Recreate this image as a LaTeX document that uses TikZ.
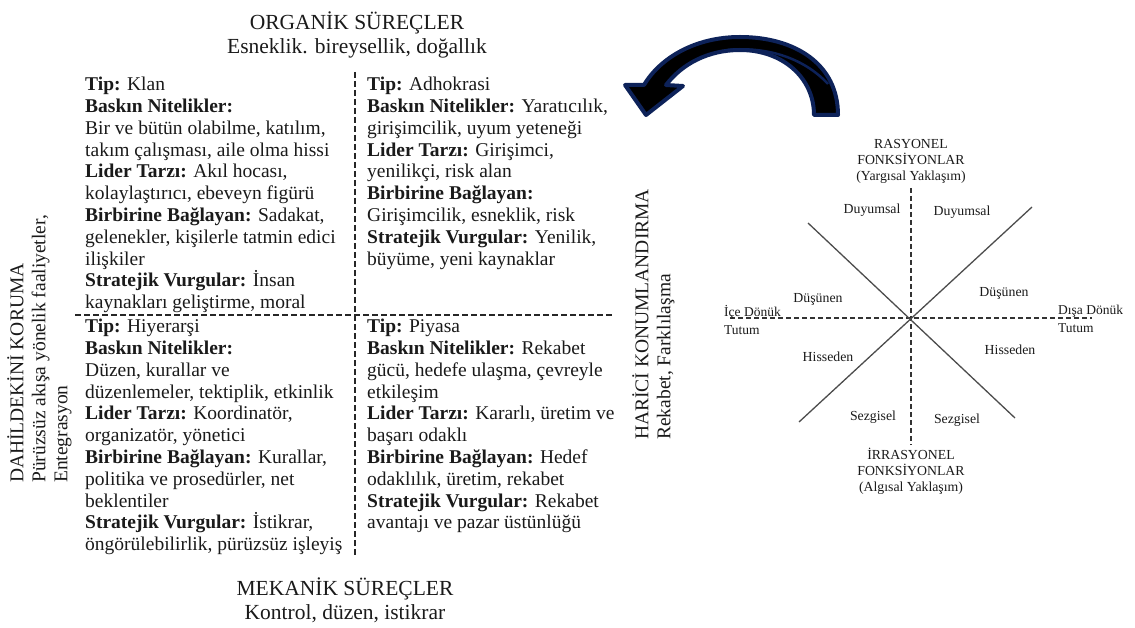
\documentclass[tikz,border=0pt]{standalone}
\usepackage{fontspec}
\setmainfont{Liberation Serif}
\definecolor{navy}{HTML}{0D2259}
\definecolor{ink}{HTML}{1A1A1A}
\begin{document}
\begin{tikzpicture}[x=1pt,y=-1pt,
  quad/.style={anchor=north west, inner sep=0pt, align=left, text=ink,
    font=\fontsize{19.5}{21.8}\selectfont},
  head/.style={align=center, inner sep=0pt, text=ink,
    font=\fontsize{21.5}{24}\selectfont},
  side/.style={rotate=90, anchor=north west, inner sep=0pt, align=left, text=ink,
    font=\fontsize{19.5}{22}\selectfont},
  small/.style={inner sep=0pt, text=ink, font=\fontsize{13.8}{16}\selectfont},
  divider/.style={dash pattern=on 6pt off 3pt, line width=1.2pt, draw=black!85},
  axis/.style={dash pattern=on 5pt off 3pt, line width=1.1pt, draw=black!80},
  diag/.style={line width=1.3pt, draw=black!70},
  turn/.style={fill=black, draw=navy, line width=4pt, line join=round},
  fold/.style={draw=navy, line width=2.5pt}
]
\useasboundingbox (0,0) rectangle (1135,628);

% ---- competing values frame ----
\node[head] (top) at (357,35) {ORGANİK SÜREÇLER\\Esneklik. bireysellik, doğallık};
\node[head] (bottom) at (345,600) {MEKANİK SÜREÇLER\\Kontrol, düzen, istikrar};

\coordinate (vtop) at (355,72);
\coordinate (vbot) at (355,555);
\coordinate (hleft) at (75,315);
\coordinate (hright) at (612,315);
\draw[divider] (vtop) -- (vbot);
\draw[divider] (hleft) -- (hright);

\node[side] (inner) at (7,483) {DAHİLDEKİNİ KORUMA\\Pürüzsüz akışa yönelik faaliyetler,\\Entegrasyon};
\node[side] (outer) at (632,440) {HARİCİ KONUMLANDIRMA\\Rekabet, Farklılaşma};

\node[quad] (clan) at (85,77) {\textbf{Tip:} Klan\\
\textbf{Baskın Nitelikler:}\\
Bir ve bütün olabilme, katılım,\\
takım çalışması, aile olma hissi\\
\textbf{Lider Tarzı:} Akıl hocası,\\
kolaylaştırıcı, ebeveyn figürü\\
\textbf{Birbirine Bağlayan:} Sadakat,\\
gelenekler, kişilerle tatmin edici\\
ilişkiler\\
\textbf{Stratejik Vurgular:} İnsan\\
kaynakları geliştirme, moral};

\node[quad] (adhocracy) at (367,77) {\textbf{Tip:} Adhokrasi\\
\textbf{Baskın Nitelikler:} Yaratıcılık,\\
girişimcilik, uyum yeteneği\\
\textbf{Lider Tarzı:} Girişimci,\\
yenilikçi, risk alan\\
\textbf{Birbirine Bağlayan:}\\
Girişimcilik, esneklik, risk\\
\textbf{Stratejik Vurgular:} Yenilik,\\
büyüme, yeni kaynaklar};

\node[quad] (hierarchy) at (85,319) {\textbf{Tip:} Hiyerarşi\\
\textbf{Baskın Nitelikler:}\\
Düzen, kurallar ve\\
düzenlemeler, tektiplik, etkinlik\\
\textbf{Lider Tarzı:} Koordinatör,\\
organizatör, yönetici\\
\textbf{Birbirine Bağlayan:} Kurallar,\\
politika ve prosedürler, net\\
beklentiler\\
\textbf{Stratejik Vurgular:} İstikrar,\\
öngörülebilirlik, pürüzsüz işleyiş};

\node[quad] (market) at (367,319) {\textbf{Tip:} Piyasa\\
\textbf{Baskın Nitelikler:} Rekabet\\
gücü, hedefe ulaşma, çevreyle\\
etkileşim\\
\textbf{Lider Tarzı:} Kararlı, üretim ve\\
başarı odaklı\\
\textbf{Birbirine Bağlayan:} Hedef\\
odaklılık, üretim, rekabet\\
\textbf{Stratejik Vurgular:} Rekabet\\
avantajı ve pazar üstünlüğü};

% ---- curved arrow ----
\draw[turn] (838,115) .. controls (838,64) and (795,37) .. (740,37)
  .. controls (695,37) and (660,58) .. (644,85)
  -- (625,85) -- (646,115) -- (683,86) -- (666,85)
  .. controls (682,64) and (708,50) .. (740,50)
  .. controls (783,50) and (814,78) .. (814,115) -- cycle;
\draw[fold] (728,50) .. controls (770,46) and (806,60) .. (828,84);

% ---- function wheel ----
\coordinate (c) at (911,318);
\coordinate (ntop) at (911,188);
\coordinate (nbot) at (911,445);
\coordinate (wl) at (730,318);
\coordinate (wr) at (1092,318);
\coordinate (d1a) at (808,223);
\coordinate (d1b) at (1015,418);
\coordinate (d2a) at (1032,207);
\coordinate (d2b) at (799,422);
\draw[axis] (ntop) -- (nbot);
\draw[axis] (wl) -- (wr);
\draw[diag] (d1a) -- (d1b);
\draw[diag] (d2a) -- (d2b);

\node[small, align=center] (rational) at (911,161) {RASYONEL\\FONKSİYONLAR\\(Yargısal Yaklaşım)};
\node[small, align=center] (irrational) at (911,471) {İRRASYONEL\\FONKSİYONLAR\\(Algısal Yaklaşım)};
\node[small] (s1) at (872,210) {Duyumsal};
\node[small] (s2) at (962,212) {Duyumsal};
\node[small] (t1) at (818,299) {Düşünen};
\node[small] (t2) at (1004,293) {Düşünen};
\node[small] (f1) at (828,357) {Hisseden};
\node[small] (f2) at (1010,350) {Hisseden};
\node[small] (n1) at (873,417) {Sezgisel};
\node[small] (n2) at (957,420) {Sezgisel};
\node[small, anchor=west, align=left, font=\fontsize{13.5}{18}\selectfont] (intro) at (724,320) {İçe Dönük\\Tutum};
\node[small, anchor=west, align=left, font=\fontsize{13.5}{18}\selectfont] (extra) at (1058,319) {Dışa Dönük\\Tutum};
\end{tikzpicture}
\end{document}
